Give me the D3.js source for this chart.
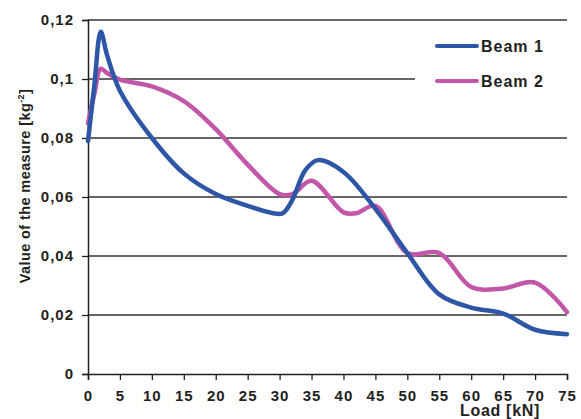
<!DOCTYPE html>
<html>
<head>
<meta charset="utf-8">
<script src="https://cdn.jsdelivr.net/npm/d3@7"></script>
<style>
  body { margin: 0; background: #fff; }
  text { font-family: "Liberation Sans", Arial, sans-serif; font-weight: bold; fill: #231f20; }
</style>
</head>
<body>
<svg id="chart" width="581" height="419"></svg>
<script>
// Data
var loadBeam1 = [0, 1, 2, 3, 5, 10, 15, 20, 25, 29, 30.5, 32, 34, 36, 40, 45, 50, 55, 60, 65, 70, 75],
valueBeam1 = [0.079, 0.098, 0.116, 0.108, 0.096, 0.080, 0.068, 0.061, 0.057, 0.0545, 0.0545, 0.059, 0.069, 0.0725, 0.0685, 0.056, 0.041, 0.027, 0.0225, 0.0205, 0.015, 0.0135],
loadBeam2 = [0, 1, 2, 3, 5, 10, 15, 20, 25, 30, 32, 35, 40, 42, 45, 50, 55, 60, 65, 70, 75],
valueBeam2 = [0.085, 0.095, 0.1035, 0.102, 0.0998, 0.0975, 0.0925, 0.083, 0.071, 0.061, 0.061, 0.0655, 0.0548, 0.0545, 0.057, 0.041, 0.041, 0.0295, 0.029, 0.031, 0.021],
xTicks = [0,5,10,15,20,25,30,35,40,45,50,55,60,65,70,75],
yTicks = [0,0.02,0.04,0.06,0.08,0.1,0.12],
yTickLabels = ["0","0,02","0,04","0,06","0,08","0,1","0,12"],
seriesNames = ["Beam 1","Beam 2"],
colors = ["#2e56a6","#c256a9"];

var svg = d3.select("#chart");
var plotLeft = 88, plotRight = 567, plotTop = 20, plotBottom = 374;

var x = d3.scaleLinear().domain([0,75]).range([plotLeft,plotRight]);
var y = d3.scaleLinear().domain([0,0.12]).range([plotBottom,plotTop]);

// Gridlines (the 0,1 one stops short of the legend)
svg.append("g").selectAll("line")
  .data(yTicks.filter(function(d){ return d > 0; }))
  .enter().append("line")
  .attr("x1", plotLeft)
  .attr("x2", function(d){ return d === 0.1 ? 415 : plotRight; })
  .attr("y1", function(d){ return y(d); })
  .attr("y2", function(d){ return y(d); })
  .attr("stroke", "#333")
  .attr("stroke-width", 1.3);

// Axes
var yAxis = d3.axisLeft(y).tickValues(yTicks)
  .tickFormat(function(d,i){ return yTickLabels[i]; })
  .tickSize(6).tickPadding(8);
var gy = svg.append("g").attr("transform","translate("+plotLeft+",0)").call(yAxis);
gy.select(".domain").attr("stroke","#231f20").attr("stroke-width",1.5);
gy.selectAll(".tick line").attr("stroke","#231f20").attr("stroke-width",1.3);
gy.selectAll("text").style("font-size","15px").style("letter-spacing","1px").attr("fill","#231f20");

var xAxis = d3.axisBottom(x).tickValues(xTicks).tickSize(6).tickPadding(10);
var gx = svg.append("g").attr("transform","translate(0,"+plotBottom+")").call(xAxis);
gx.select(".domain").attr("stroke","#231f20").attr("stroke-width",1.5);
gx.selectAll(".tick line").attr("stroke","#231f20").attr("stroke-width",1.3);
gx.selectAll("text").style("font-size","15px").style("letter-spacing","1px").attr("fill","#231f20");

// Axis titles
var yt = svg.append("text")
  .attr("transform","translate(30,186) rotate(-90)")
  .attr("text-anchor","middle")
  .style("font-size","14.5px")
  .style("letter-spacing","0.4px");
yt.append("tspan").text("Value of the measure [kg");
yt.append("tspan").attr("dy",-6).style("font-size","9px").text("-2");
yt.append("tspan").attr("dy",6).text("]");

svg.append("text")
  .attr("x", 500).attr("y", 416)
  .attr("text-anchor","middle")
  .style("font-size","16px")
  .style("letter-spacing","0.7px")
  .text("Load [kN]");

// Lines
var line = d3.line()
  .x(function(d){ return x(d[0]); })
  .y(function(d){ return y(d[1]); })
  .curve(d3.curveCatmullRom.alpha(0.5));

var series = [d3.zip(loadBeam1, valueBeam1), d3.zip(loadBeam2, valueBeam2)];

svg.append("g").selectAll("path")
  .data([series[1], series[0]])
  .enter().append("path")
  .attr("d", line)
  .attr("fill","none")
  .attr("stroke", function(d,i){ return i === 0 ? colors[1] : colors[0]; })
  .attr("stroke-width", 4.5)
  .attr("stroke-linecap","round")
  .attr("stroke-linejoin","round");

// Legend
var legend = svg.append("g").selectAll("g")
  .data(seriesNames)
  .enter().append("g")
  .attr("transform", function(d,i){ return "translate(437,"+(46+i*35)+")"; });
legend.append("line")
  .attr("x1",0).attr("x2",40)
  .attr("stroke", function(d,i){ return colors[i]; })
  .attr("stroke-width",4)
  .attr("stroke-linecap","round");
legend.append("text")
  .attr("x",44).attr("y",6)
  .style("font-size","16px")
  .style("letter-spacing","1px")
  .text(function(d){ return d; });
</script>
</body>
</html>
